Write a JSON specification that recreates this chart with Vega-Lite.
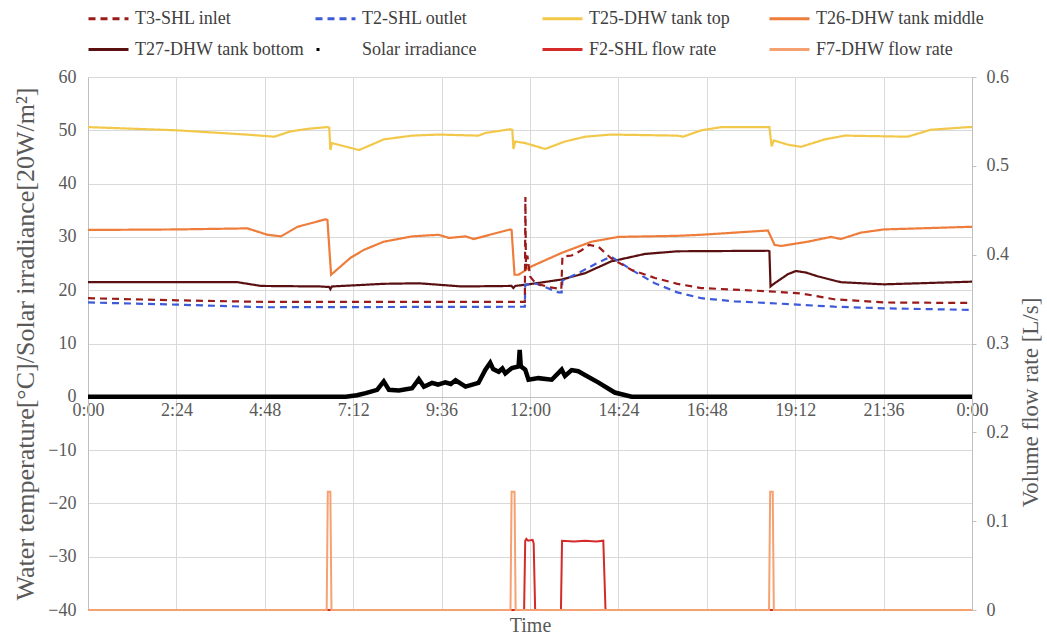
{
  "$schema": "https://vega.github.io/schema/vega-lite/v6.json",
  "width": 884,
  "height": 533,
  "autosize": {"type": "none"},
  "padding": {"left": 88, "top": 77, "right": 75, "bottom": 27},
  "config": {
    "view": {"stroke": null},
    "font": "Liberation Serif",
    "text": {"font": "Liberation Serif"},
    "axis": {
      "labelFont": "Liberation Serif",
      "titleFont": "Liberation Serif",
      "labelColor": "#595959",
      "titleColor": "#595959",
      "labelFontSize": 18,
      "titleFontSize": 20,
      "titleFontWeight": "normal",
      "gridColor": "#d9d9d9",
      "domainColor": "#bfbfbf",
      "tickColor": "#bfbfbf"
    },
    "legend": {"labelFont": "Liberation Serif", "titleFont": "Liberation Serif"}
  },
  "datasets": {
    "temps": [
      {"series": "T25-DHW tank top", "t": 0, "v": 50.6},
      {"series": "T25-DHW tank top", "t": 2.4, "v": 50.0},
      {"series": "T25-DHW tank top", "t": 4.3, "v": 49.2},
      {"series": "T25-DHW tank top", "t": 5.06, "v": 48.8},
      {"series": "T25-DHW tank top", "t": 5.5, "v": 49.8},
      {"series": "T25-DHW tank top", "t": 6.0, "v": 50.3},
      {"series": "T25-DHW tank top", "t": 6.5, "v": 50.6},
      {"series": "T25-DHW tank top", "t": 6.55, "v": 50.5},
      {"series": "T25-DHW tank top", "t": 6.58, "v": 46.3},
      {"series": "T25-DHW tank top", "t": 6.62, "v": 47.6},
      {"series": "T25-DHW tank top", "t": 7.13, "v": 46.7},
      {"series": "T25-DHW tank top", "t": 7.36, "v": 46.3},
      {"series": "T25-DHW tank top", "t": 7.7, "v": 47.3},
      {"series": "T25-DHW tank top", "t": 8.03, "v": 48.3},
      {"series": "T25-DHW tank top", "t": 8.8, "v": 49.0},
      {"series": "T25-DHW tank top", "t": 9.52, "v": 49.2},
      {"series": "T25-DHW tank top", "t": 10.6, "v": 49.0},
      {"series": "T25-DHW tank top", "t": 10.79, "v": 49.5},
      {"series": "T25-DHW tank top", "t": 11.46, "v": 50.2},
      {"series": "T25-DHW tank top", "t": 11.52, "v": 50.1},
      {"series": "T25-DHW tank top", "t": 11.55, "v": 46.5},
      {"series": "T25-DHW tank top", "t": 11.6, "v": 47.9},
      {"series": "T25-DHW tank top", "t": 11.87, "v": 47.6},
      {"series": "T25-DHW tank top", "t": 12.41, "v": 46.5},
      {"series": "T25-DHW tank top", "t": 12.95, "v": 47.9},
      {"series": "T25-DHW tank top", "t": 13.5, "v": 48.8},
      {"series": "T25-DHW tank top", "t": 14.2, "v": 49.2},
      {"series": "T25-DHW tank top", "t": 16.0, "v": 49.0},
      {"series": "T25-DHW tank top", "t": 16.16, "v": 48.8},
      {"series": "T25-DHW tank top", "t": 16.65, "v": 50.0},
      {"series": "T25-DHW tank top", "t": 17.2, "v": 50.6},
      {"series": "T25-DHW tank top", "t": 18.5, "v": 50.6},
      {"series": "T25-DHW tank top", "t": 18.56, "v": 47.0},
      {"series": "T25-DHW tank top", "t": 18.62, "v": 48.1},
      {"series": "T25-DHW tank top", "t": 19.0, "v": 47.3},
      {"series": "T25-DHW tank top", "t": 19.36, "v": 46.9},
      {"series": "T25-DHW tank top", "t": 20.0, "v": 48.3},
      {"series": "T25-DHW tank top", "t": 20.55, "v": 49.0},
      {"series": "T25-DHW tank top", "t": 22.25, "v": 48.8},
      {"series": "T25-DHW tank top", "t": 22.88, "v": 50.1},
      {"series": "T25-DHW tank top", "t": 23.9, "v": 50.6},
      {"series": "T25-DHW tank top", "t": 24, "v": 50.6},

      {"series": "T26-DHW tank middle", "t": 0, "v": 31.3},
      {"series": "T26-DHW tank middle", "t": 2.4, "v": 31.4},
      {"series": "T26-DHW tank middle", "t": 4.33, "v": 31.6},
      {"series": "T26-DHW tank middle", "t": 4.87, "v": 30.4},
      {"series": "T26-DHW tank middle", "t": 5.24, "v": 30.1},
      {"series": "T26-DHW tank middle", "t": 5.69, "v": 31.9},
      {"series": "T26-DHW tank middle", "t": 6.45, "v": 33.3},
      {"series": "T26-DHW tank middle", "t": 6.5, "v": 33.2},
      {"series": "T26-DHW tank middle", "t": 6.6, "v": 22.9},
      {"series": "T26-DHW tank middle", "t": 7.13, "v": 26.1},
      {"series": "T26-DHW tank middle", "t": 7.5, "v": 27.6},
      {"series": "T26-DHW tank middle", "t": 8.03, "v": 29.1},
      {"series": "T26-DHW tank middle", "t": 8.8, "v": 30.1},
      {"series": "T26-DHW tank middle", "t": 9.52, "v": 30.4},
      {"series": "T26-DHW tank middle", "t": 9.8, "v": 29.8},
      {"series": "T26-DHW tank middle", "t": 10.25, "v": 30.1},
      {"series": "T26-DHW tank middle", "t": 10.47, "v": 29.6},
      {"series": "T26-DHW tank middle", "t": 11.46, "v": 31.4},
      {"series": "T26-DHW tank middle", "t": 11.5, "v": 31.3},
      {"series": "T26-DHW tank middle", "t": 11.58, "v": 22.9},
      {"series": "T26-DHW tank middle", "t": 11.69, "v": 22.9},
      {"series": "T26-DHW tank middle", "t": 12.05, "v": 24.5},
      {"series": "T26-DHW tank middle", "t": 12.86, "v": 27.0},
      {"series": "T26-DHW tank middle", "t": 13.67, "v": 29.1},
      {"series": "T26-DHW tank middle", "t": 14.4, "v": 30.0},
      {"series": "T26-DHW tank middle", "t": 16.0, "v": 30.2},
      {"series": "T26-DHW tank middle", "t": 16.65, "v": 30.4},
      {"series": "T26-DHW tank middle", "t": 17.55, "v": 30.8},
      {"series": "T26-DHW tank middle", "t": 18.46, "v": 31.2},
      {"series": "T26-DHW tank middle", "t": 18.64, "v": 28.5},
      {"series": "T26-DHW tank middle", "t": 18.82, "v": 28.3},
      {"series": "T26-DHW tank middle", "t": 19.54, "v": 29.1},
      {"series": "T26-DHW tank middle", "t": 20.17, "v": 30.0},
      {"series": "T26-DHW tank middle", "t": 20.44, "v": 29.6},
      {"series": "T26-DHW tank middle", "t": 20.98, "v": 30.8},
      {"series": "T26-DHW tank middle", "t": 21.61, "v": 31.4},
      {"series": "T26-DHW tank middle", "t": 24, "v": 31.9},

      {"series": "T27-DHW tank bottom", "t": 0, "v": 21.5},
      {"series": "T27-DHW tank bottom", "t": 4.06, "v": 21.5},
      {"series": "T27-DHW tank bottom", "t": 4.7, "v": 20.8},
      {"series": "T27-DHW tank bottom", "t": 6.3, "v": 20.7},
      {"series": "T27-DHW tank bottom", "t": 6.55, "v": 20.6},
      {"series": "T27-DHW tank bottom", "t": 6.58, "v": 20.2},
      {"series": "T27-DHW tank bottom", "t": 6.62, "v": 20.7},
      {"series": "T27-DHW tank bottom", "t": 8.03, "v": 21.2},
      {"series": "T27-DHW tank bottom", "t": 8.98, "v": 21.3},
      {"series": "T27-DHW tank bottom", "t": 10.15, "v": 20.7},
      {"series": "T27-DHW tank bottom", "t": 11.5, "v": 20.8},
      {"series": "T27-DHW tank bottom", "t": 11.55, "v": 20.4},
      {"series": "T27-DHW tank bottom", "t": 11.6, "v": 20.8},
      {"series": "T27-DHW tank bottom", "t": 11.96, "v": 21.1},
      {"series": "T27-DHW tank bottom", "t": 12.86, "v": 22.0},
      {"series": "T27-DHW tank bottom", "t": 13.5, "v": 23.2},
      {"series": "T27-DHW tank bottom", "t": 14.2, "v": 25.4},
      {"series": "T27-DHW tank bottom", "t": 15.12, "v": 26.8},
      {"series": "T27-DHW tank bottom", "t": 16.0, "v": 27.3},
      {"series": "T27-DHW tank bottom", "t": 18.46, "v": 27.4},
      {"series": "T27-DHW tank bottom", "t": 18.5, "v": 27.3},
      {"series": "T27-DHW tank bottom", "t": 18.53, "v": 20.7},
      {"series": "T27-DHW tank bottom", "t": 18.64, "v": 21.3},
      {"series": "T27-DHW tank bottom", "t": 19.0, "v": 23.0},
      {"series": "T27-DHW tank bottom", "t": 19.22, "v": 23.6},
      {"series": "T27-DHW tank bottom", "t": 19.5, "v": 23.3},
      {"series": "T27-DHW tank bottom", "t": 19.81, "v": 22.6},
      {"series": "T27-DHW tank bottom", "t": 20.44, "v": 21.5},
      {"series": "T27-DHW tank bottom", "t": 21.61, "v": 21.1},
      {"series": "T27-DHW tank bottom", "t": 24, "v": 21.6},

      {"series": "T2-SHL outlet", "t": 0, "v": 17.7},
      {"series": "T2-SHL outlet", "t": 2.4, "v": 17.3},
      {"series": "T2-SHL outlet", "t": 4.8, "v": 16.8},
      {"series": "T2-SHL outlet", "t": 11.86, "v": 16.9},
      {"series": "T2-SHL outlet", "t": 11.87, "v": 21.0},
      {"series": "T2-SHL outlet", "t": 12.14, "v": 21.3},
      {"series": "T2-SHL outlet", "t": 12.77, "v": 19.6},
      {"series": "T2-SHL outlet", "t": 12.86, "v": 19.6},
      {"series": "T2-SHL outlet", "t": 12.88, "v": 21.8},
      {"series": "T2-SHL outlet", "t": 13.31, "v": 23.2},
      {"series": "T2-SHL outlet", "t": 13.8, "v": 25.0},
      {"series": "T2-SHL outlet", "t": 14.2, "v": 26.3},
      {"series": "T2-SHL outlet", "t": 14.76, "v": 23.8},
      {"series": "T2-SHL outlet", "t": 15.39, "v": 21.3},
      {"series": "T2-SHL outlet", "t": 16.0, "v": 19.6},
      {"series": "T2-SHL outlet", "t": 16.65, "v": 18.5},
      {"series": "T2-SHL outlet", "t": 17.55, "v": 17.9},
      {"series": "T2-SHL outlet", "t": 18.46, "v": 17.6},
      {"series": "T2-SHL outlet", "t": 20.26, "v": 16.9},
      {"series": "T2-SHL outlet", "t": 21.61, "v": 16.6},
      {"series": "T2-SHL outlet", "t": 24, "v": 16.3},

      {"series": "T3-SHL inlet", "t": 0, "v": 18.5},
      {"series": "T3-SHL inlet", "t": 2.4, "v": 18.1},
      {"series": "T3-SHL inlet", "t": 4.8, "v": 17.8},
      {"series": "T3-SHL inlet", "t": 11.86, "v": 17.8},
      {"series": "T3-SHL inlet", "t": 11.875, "v": 37.5},
      {"series": "T3-SHL inlet", "t": 11.89, "v": 24.0},
      {"series": "T3-SHL inlet", "t": 11.93, "v": 26.5},
      {"series": "T3-SHL inlet", "t": 12.0, "v": 22.6},
      {"series": "T3-SHL inlet", "t": 12.15, "v": 21.3},
      {"series": "T3-SHL inlet", "t": 12.5, "v": 20.6},
      {"series": "T3-SHL inlet", "t": 12.85, "v": 20.2},
      {"series": "T3-SHL inlet", "t": 12.88, "v": 26.3},
      {"series": "T3-SHL inlet", "t": 13.13, "v": 26.5},
      {"series": "T3-SHL inlet", "t": 13.4, "v": 27.5},
      {"series": "T3-SHL inlet", "t": 13.6, "v": 28.5},
      {"series": "T3-SHL inlet", "t": 13.85, "v": 28.2},
      {"series": "T3-SHL inlet", "t": 14.2, "v": 26.0},
      {"series": "T3-SHL inlet", "t": 14.76, "v": 23.8},
      {"series": "T3-SHL inlet", "t": 15.39, "v": 22.3},
      {"series": "T3-SHL inlet", "t": 16.0, "v": 21.2},
      {"series": "T3-SHL inlet", "t": 16.65, "v": 20.4},
      {"series": "T3-SHL inlet", "t": 18.46, "v": 19.8},
      {"series": "T3-SHL inlet", "t": 19.36, "v": 19.4},
      {"series": "T3-SHL inlet", "t": 20.26, "v": 18.3},
      {"series": "T3-SHL inlet", "t": 21.61, "v": 17.7},
      {"series": "T3-SHL inlet", "t": 24, "v": 17.6}
    ],
    "solar": [
      {"series": "Solar irradiance", "t": 0, "v": 0},
      {"series": "Solar irradiance", "t": 7.0, "v": 0},
      {"series": "Solar irradiance", "t": 7.3, "v": 0.3},
      {"series": "Solar irradiance", "t": 7.54, "v": 0.7},
      {"series": "Solar irradiance", "t": 7.85, "v": 1.3},
      {"series": "Solar irradiance", "t": 8.03, "v": 2.9},
      {"series": "Solar irradiance", "t": 8.17, "v": 1.3},
      {"series": "Solar irradiance", "t": 8.44, "v": 1.2},
      {"series": "Solar irradiance", "t": 8.8, "v": 1.6},
      {"series": "Solar irradiance", "t": 8.98, "v": 3.3},
      {"series": "Solar irradiance", "t": 9.12, "v": 1.9},
      {"series": "Solar irradiance", "t": 9.34, "v": 2.6},
      {"series": "Solar irradiance", "t": 9.5, "v": 2.3},
      {"series": "Solar irradiance", "t": 9.7, "v": 2.7},
      {"series": "Solar irradiance", "t": 9.85, "v": 2.4},
      {"series": "Solar irradiance", "t": 9.98, "v": 3.1},
      {"series": "Solar irradiance", "t": 10.25, "v": 1.9},
      {"series": "Solar irradiance", "t": 10.6, "v": 2.6},
      {"series": "Solar irradiance", "t": 10.79, "v": 5.1},
      {"series": "Solar irradiance", "t": 10.92, "v": 6.4},
      {"series": "Solar irradiance", "t": 11.0, "v": 5.2},
      {"series": "Solar irradiance", "t": 11.15, "v": 4.7},
      {"series": "Solar irradiance", "t": 11.25, "v": 5.3},
      {"series": "Solar irradiance", "t": 11.33, "v": 4.4},
      {"series": "Solar irradiance", "t": 11.51, "v": 5.4},
      {"series": "Solar irradiance", "t": 11.69, "v": 5.7},
      {"series": "Solar irradiance", "t": 11.72, "v": 8.8},
      {"series": "Solar irradiance", "t": 11.75, "v": 5.7},
      {"series": "Solar irradiance", "t": 11.87, "v": 5.1},
      {"series": "Solar irradiance", "t": 11.96, "v": 3.2},
      {"series": "Solar irradiance", "t": 12.23, "v": 3.5},
      {"series": "Solar irradiance", "t": 12.59, "v": 3.2},
      {"series": "Solar irradiance", "t": 12.86, "v": 5.1},
      {"series": "Solar irradiance", "t": 12.95, "v": 3.9},
      {"series": "Solar irradiance", "t": 13.13, "v": 5.0},
      {"series": "Solar irradiance", "t": 13.31, "v": 4.8},
      {"series": "Solar irradiance", "t": 13.49, "v": 4.1},
      {"series": "Solar irradiance", "t": 13.85, "v": 2.7},
      {"series": "Solar irradiance", "t": 14.3, "v": 0.8},
      {"series": "Solar irradiance", "t": 14.76, "v": 0},
      {"series": "Solar irradiance", "t": 24, "v": 0}
    ],
    "f2": [
      {"series": "F2-SHL flow rate", "t": 0, "q": 0},
      {"series": "F2-SHL flow rate", "t": 11.84, "q": 0},
      {"series": "F2-SHL flow rate", "t": 11.87, "q": 0.078},
      {"series": "F2-SHL flow rate", "t": 11.9, "q": 0.08},
      {"series": "F2-SHL flow rate", "t": 11.95, "q": 0.078},
      {"series": "F2-SHL flow rate", "t": 12.07, "q": 0.079},
      {"series": "F2-SHL flow rate", "t": 12.1, "q": 0.075},
      {"series": "F2-SHL flow rate", "t": 12.14, "q": 0},
      {"series": "F2-SHL flow rate", "t": 12.84, "q": 0},
      {"series": "F2-SHL flow rate", "t": 12.87, "q": 0.078},
      {"series": "F2-SHL flow rate", "t": 13.2, "q": 0.077},
      {"series": "F2-SHL flow rate", "t": 13.5, "q": 0.078},
      {"series": "F2-SHL flow rate", "t": 13.8, "q": 0.077},
      {"series": "F2-SHL flow rate", "t": 13.99, "q": 0.078},
      {"series": "F2-SHL flow rate", "t": 14.05, "q": 0},
      {"series": "F2-SHL flow rate", "t": 24, "q": 0}
    ],
    "f7": [
      {"series": "F7-DHW flow rate", "t": 0, "q": 0},
      {"series": "F7-DHW flow rate", "t": 6.48, "q": 0},
      {"series": "F7-DHW flow rate", "t": 6.51, "q": 0.133},
      {"series": "F7-DHW flow rate", "t": 6.58, "q": 0.133},
      {"series": "F7-DHW flow rate", "t": 6.61, "q": 0},
      {"series": "F7-DHW flow rate", "t": 11.47, "q": 0},
      {"series": "F7-DHW flow rate", "t": 11.5, "q": 0.133},
      {"series": "F7-DHW flow rate", "t": 11.58, "q": 0.133},
      {"series": "F7-DHW flow rate", "t": 11.61, "q": 0},
      {"series": "F7-DHW flow rate", "t": 18.49, "q": 0},
      {"series": "F7-DHW flow rate", "t": 18.52, "q": 0.133},
      {"series": "F7-DHW flow rate", "t": 18.59, "q": 0.133},
      {"series": "F7-DHW flow rate", "t": 18.62, "q": 0},
      {"series": "F7-DHW flow rate", "t": 24, "q": 0}
    ]
  },
  "layer": [
    {
      "layer": [
        {
          "data": {"name": "temps"},
          "mark": {"type": "line", "strokeWidth": 2.2},
          "encoding": {
            "x": {
              "field": "t", "type": "quantitative",
              "scale": {"domain": [0, 24], "nice": false, "zero": false},
              "axis": {
                "values": [0, 2.4, 4.8, 7.2, 9.6, 12, 14.4, 16.8, 19.2, 21.6, 24],
                "labelExpr": "datum.value >= 23.99 ? '0:00' : floor(datum.value + 0.001) + ':' + (round((datum.value % 1) * 60) < 10 ? '0' : '') + round((datum.value % 1) * 60)",
                "labelFlush": false,
                "labelOverlap": false,
                "offset": -213,
                "ticks": false,
                "labelPadding": 4,
                "domainColor": "#bfbfbf",
                "title": "Time",
                "titleY": 228,
                "titleBaseline": "middle",
                "titleFontSize": 20
              }
            },
            "y": {
              "field": "v", "type": "quantitative",
              "scale": {"domain": [-40, 60], "nice": false, "zero": false},
              "axis": {
                "values": [-40, -30, -20, -10, 0, 10, 20, 30, 40, 50, 60],
                "ticks": false,
                "labelPadding": 12,
                "title": "Water temperature[°C]/Solar irradiance[20W/m²]",
                "titleFontSize": 26,
                "titlePadding": 9
              }
            },
            "color": {
              "field": "series", "type": "nominal",
              "scale": {
                "domain": ["T3-SHL inlet", "T2-SHL outlet", "T25-DHW tank top", "T26-DHW tank middle", "T27-DHW tank bottom", "Solar irradiance", "F2-SHL flow rate", "F7-DHW flow rate"],
                "range": ["#9b1b1b", "#3d5bd9", "#f2c84b", "#ee7d3b", "#5a1010", "#000000", "#d42a2a", "#f6a172"]
              },
              "legend": {
                "orient": "none",
                "legendX": -1,
                "legendY": -80,
                "columns": 4,
                "direction": "horizontal",
                "gridAlign": "all",
                "title": null,
                "symbolType": "stroke",
                "symbolSize": 1600,
                "symbolStrokeWidth": 3,
                "labelFont": "Liberation Serif",
                "labelFontSize": 18,
                "labelColor": "#404040",
                "labelOffset": 5,
                "rowPadding": -4,
                "columnPadding": 5,
                "labelLimit": 300
              }
            },
            "strokeDash": {
              "field": "series", "type": "nominal",
              "scale": {
                "domain": ["T3-SHL inlet", "T2-SHL outlet", "T25-DHW tank top", "T26-DHW tank middle", "T27-DHW tank bottom", "Solar irradiance", "F2-SHL flow rate", "F7-DHW flow rate"],
                "range": [[7, 5], [7, 5], [1, 0], [1, 0], [1, 0], [0.01, 1, 3, 100], [1, 0], [1, 0]]
              }
            }
          }
        },
        {
          "data": {"name": "solar"},
          "mark": {"type": "line", "strokeWidth": 4.5},
          "encoding": {
            "x": {"field": "t", "type": "quantitative"},
            "y": {"field": "v", "type": "quantitative"},
            "color": {"field": "series", "type": "nominal"}
          }
        }
      ]
    },
    {
      "layer": [
        {
          "data": {"name": "f2"},
          "mark": {"type": "line", "strokeWidth": 2},
          "encoding": {
            "x": {"field": "t", "type": "quantitative"},
            "y": {
              "field": "q", "type": "quantitative",
              "scale": {"domain": [0, 0.6], "nice": false, "zero": false},
              "axis": {
                "orient": "right",
                "values": [0, 0.1, 0.2, 0.3, 0.4, 0.5, 0.6],
                "format": ".1~f",
                "grid": false,
                "ticks": true,
                "tickSize": 4,
                "labelPadding": 10,
                "title": "Volume flow rate [L/s]",
                "titleAngle": -90,
                "titleFontSize": 23,
                "titleX": 58,
                "titleY": 325,
                "titleAlign": "center",
                "titleBaseline": "middle"
              }
            },
            "color": {"field": "series", "type": "nominal"}
          }
        },
        {
          "data": {"name": "f7"},
          "mark": {"type": "line", "strokeWidth": 2},
          "encoding": {
            "x": {"field": "t", "type": "quantitative"},
            "y": {"field": "q", "type": "quantitative"},
            "color": {"field": "series", "type": "nominal"}
          }
        }
      ]
    }
  ],
  "resolve": {"scale": {"y": "independent"}}
}
